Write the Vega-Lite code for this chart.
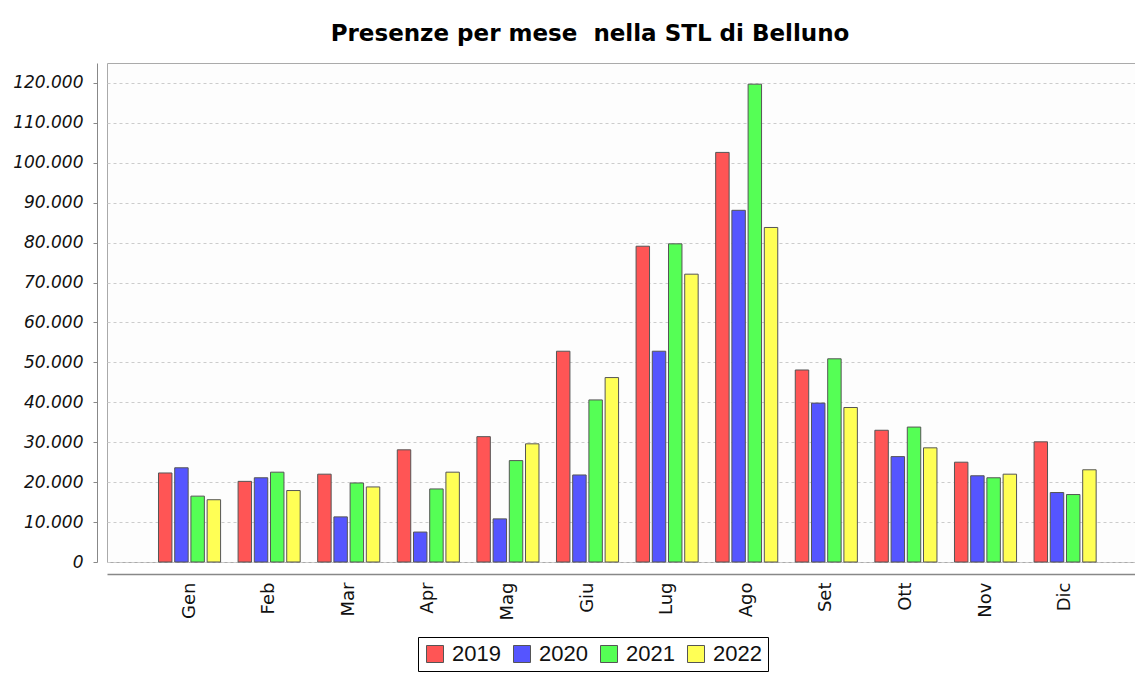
{
  "$schema": "https://vega.github.io/schema/vega-lite/v6.json",
  "width": 1028,
  "height": 499,
  "autosize": {"type": "none"},
  "padding": {"left": 107, "top": 63, "right": 0, "bottom": 112},
  "background": "white",
  "title": {"text": "Presenze per mese\u00a0 nella STL di Belluno", "font": "DejaVu Sans", "fontSize": 23, "fontWeight": "bold", "color": "black", "anchor": "middle", "dx": -31, "offset": 17},
  "data": {"values": [
    {"mese": "Gen", "anno": "2019", "presenze": 22300},
    {"mese": "Gen", "anno": "2020", "presenze": 23600},
    {"mese": "Gen", "anno": "2021", "presenze": 16500},
    {"mese": "Gen", "anno": "2022", "presenze": 15600},
    {"mese": "Feb", "anno": "2019", "presenze": 20200},
    {"mese": "Feb", "anno": "2020", "presenze": 21100},
    {"mese": "Feb", "anno": "2021", "presenze": 22500},
    {"mese": "Feb", "anno": "2022", "presenze": 17900},
    {"mese": "Mar", "anno": "2019", "presenze": 22000},
    {"mese": "Mar", "anno": "2020", "presenze": 11300},
    {"mese": "Mar", "anno": "2021", "presenze": 19800},
    {"mese": "Mar", "anno": "2022", "presenze": 18800},
    {"mese": "Apr", "anno": "2019", "presenze": 28100},
    {"mese": "Apr", "anno": "2020", "presenze": 7500},
    {"mese": "Apr", "anno": "2021", "presenze": 18300},
    {"mese": "Apr", "anno": "2022", "presenze": 22500},
    {"mese": "Mag", "anno": "2019", "presenze": 31400},
    {"mese": "Mag", "anno": "2020", "presenze": 10800},
    {"mese": "Mag", "anno": "2021", "presenze": 25400},
    {"mese": "Mag", "anno": "2022", "presenze": 29600},
    {"mese": "Giu", "anno": "2019", "presenze": 52800},
    {"mese": "Giu", "anno": "2020", "presenze": 21800},
    {"mese": "Giu", "anno": "2021", "presenze": 40600},
    {"mese": "Giu", "anno": "2022", "presenze": 46200},
    {"mese": "Lug", "anno": "2019", "presenze": 79100},
    {"mese": "Lug", "anno": "2020", "presenze": 52800},
    {"mese": "Lug", "anno": "2021", "presenze": 79700},
    {"mese": "Lug", "anno": "2022", "presenze": 72100},
    {"mese": "Ago", "anno": "2019", "presenze": 102600},
    {"mese": "Ago", "anno": "2020", "presenze": 88100},
    {"mese": "Ago", "anno": "2021", "presenze": 119700},
    {"mese": "Ago", "anno": "2022", "presenze": 83800},
    {"mese": "Set", "anno": "2019", "presenze": 48100},
    {"mese": "Set", "anno": "2020", "presenze": 39800},
    {"mese": "Set", "anno": "2021", "presenze": 50900},
    {"mese": "Set", "anno": "2022", "presenze": 38700},
    {"mese": "Ott", "anno": "2019", "presenze": 33000},
    {"mese": "Ott", "anno": "2020", "presenze": 26400},
    {"mese": "Ott", "anno": "2021", "presenze": 33800},
    {"mese": "Ott", "anno": "2022", "presenze": 28600},
    {"mese": "Nov", "anno": "2019", "presenze": 25000},
    {"mese": "Nov", "anno": "2020", "presenze": 21600},
    {"mese": "Nov", "anno": "2021", "presenze": 21100},
    {"mese": "Nov", "anno": "2022", "presenze": 22000},
    {"mese": "Dic", "anno": "2019", "presenze": 30100},
    {"mese": "Dic", "anno": "2020", "presenze": 17400},
    {"mese": "Dic", "anno": "2021", "presenze": 16900},
    {"mese": "Dic", "anno": "2022", "presenze": 23100}
  ]},
  "mark": {"type": "bar", "stroke": "#555555", "strokeWidth": 1},
  "encoding": {
    "x": {
      "field": "mese", "type": "nominal",
      "sort": ["Gen", "Feb", "Mar", "Apr", "Mag", "Giu", "Lug", "Ago", "Set", "Ott", "Nov", "Dic"],
      "scale": {"paddingInner": 0.22, "paddingOuter": 0.5675, "align": 0.57},
      "axis": {"title": null, "offset": 12, "domainColor": "#888888", "domainWidth": 1.5, "ticks": false, "labelAngle": -90, "labelFont": "DejaVu Sans", "labelFontSize": 18, "labelColor": "#111111", "labelPadding": 8, "grid": false}
    },
    "xOffset": {"field": "anno", "type": "nominal", "scale": {"paddingInner": 0.17, "paddingOuter": 0}},
    "y": {
      "field": "presenze", "type": "quantitative",
      "scale": {"domain": [0, 125000], "nice": false},
      "axis": {"title": null, "offset": 10, "values": [0, 10000, 20000, 30000, 40000, 50000, 60000, 70000, 80000, 90000, 100000, 110000, 120000], "labelExpr": "replace(format(datum.value, ','), ',', '.')", "domainColor": "#888888", "tickColor": "#888888", "tickSize": 4, "labelFont": "DejaVu Sans", "labelFontStyle": "italic", "labelFontSize": 17, "labelColor": "#111111", "labelPadding": 10, "grid": true, "gridColor": "#cccccc", "gridDash": [3, 3]}
    },
    "color": {
      "field": "anno", "type": "nominal",
      "scale": {"range": ["#ff5555", "#5555ff", "#55ff55", "#ffff55"]},
      "legend": {"title": null, "orient": "none", "legendX": 311, "legendY": 574, "direction": "horizontal", "strokeColor": "black", "padding": 6, "symbolType": "square", "symbolSize": 289, "symbolStrokeColor": "#555555", "symbolStrokeWidth": 1, "symbolOpacity": 1, "labelFont": "Liberation Sans", "labelFontSize": 22, "labelColor": "#111111", "columnPadding": 10, "labelOffset": 6}
    }
  },
  "config": {"view": {"stroke": "#aaaaaa", "fill": "#fdfdfd"}}
}
